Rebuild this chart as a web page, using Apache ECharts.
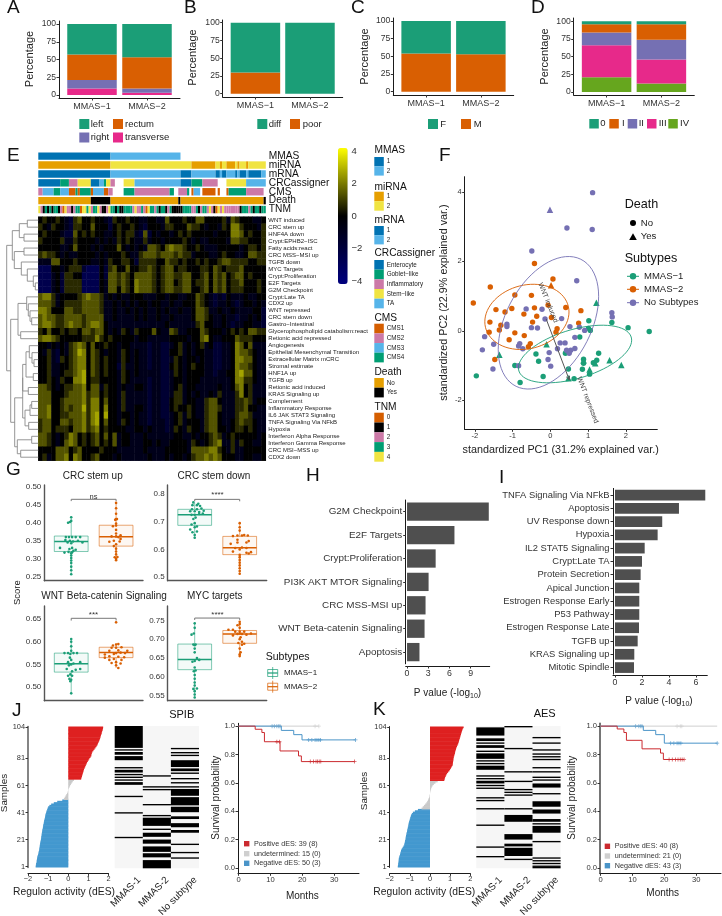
<!DOCTYPE html>
<html><head><meta charset="utf-8">
<style>html,body{margin:0;padding:0;background:#fff}#c{width:722px;height:916px}</style>
<script src="https://cdn.jsdelivr.net/npm/echarts@6/dist/echarts.min.js"></script>
</head><body><div id="c"></div>
<script>
// ---------- DATA ----------
const subtypeCats = ['MMAS\u22121','MMAS\u22122'];
const aTransverse=[9,3], aRight=[12,6], aRectum=[36,44], aLeft=[43,47];
const bPoor=[30,0], bDiff=[70,100];
const cM=[54,53], cF=[46,47];
const dIV=[21,12], dIII=[45,34], dII=[18,28], dI=[12,22], d0=[4,4];

const heatRowNames=['WNT induced','CRC stem up','HNF4A down','Crypt:EPHB2\u2212ISC','Fatty acids:react','CRC MSS\u2212MSI up','TGFB down','MYC Targets','Crypt:Proliferation','E2F Targets','G2M Checkpoint','Crypt:Late TA','CDX2 up','WNT repressed','CRC stem down','Gastro\u2212Intestinal','Glycerophospholipid catabolism:react','Retionic acid repressed','Angiogenesis','Epithelial Mesenchymal Transition','Extracellular Matrix mCRC','Stromal estimate','HNF1A up','TGFB up','Retionic acid induced','KRAS Signaling up','Complement','Inflammatory Response','IL6 JAK STAT3 Signaling','TNFA Signaling Via NFkB','Hypoxia','Interferon Alpha Response','Interferon Gamma Response','CRC MSI\u2212MSS up','CDX2 down'];
// coarse columns; digit 5 = 0, 1 = strong blue, 9 = strong yellow
const heatRows=[
"5655 6543 6755 6554 3655 6554 4554 4755 5655 7755 5564 7655 5445",
"6546 5543 6655 7555 3565 5654 3555 4665 5576 6545 5465 8865 5546",
"5655 5433 7565 6554 4565 6643 7354 5545 6565 5555 4555 8875 6556",
"6555 5644 6555 5454 5465 6544 6455 4555 5654 5445 5554 7766 5556",
"5555 5445 7555 4545 5575 4545 4776 5787 7655 6544 4555 5545 6656",
"6766 5454 4555 5454 5556 5446 7776 7776 7664 5554 4565 5445 7766",
"4447 7555 6555 4454 6556 6536 6665 5766 5655 6565 5677 6666 5566",
"2225 5456 6632 2253 6755 7556 6765 6775 6655 5665 7656 6675 5555",
"2224 5366 5522 2253 7767 6577 7765 6776 6775 5675 7675 6775 6555",
"2224 5366 6622 2254 7767 6587 7765 6775 6775 6675 7675 6675 5565",
"2224 5366 6622 2254 7757 6587 7765 6776 6775 5675 7675 6665 5565",
"7886 4555 5678 7764 5454 4555 4445 5455 4455 7654 3435 4445 4455",
"7776 4566 6677 7764 4545 4545 5455 4454 4555 7654 3445 4345 5454",
"8875 5577 6677 7764 4544 5454 5445 4544 5445 7764 4544 5444 4553",
"7877 6677 7767 7774 4544 4454 5445 4454 4445 7765 4454 4344 5453",
"7887 6678 7767 8875 4444 4444 4444 4544 4444 6755 4454 3445 5443",
"6575 5656 6577 6775 4546 5465 5575 4476 4455 5765 5545 6565 7766",
"7887 6555 5566 6865 6555 5545 5444 4455 5545 5785 4455 5766 6555",
"5545 4546 7875 7556 5545 5444 4344 3345 6454 5645 3344 5875 7444",
"5464 3546 7985 7654 5546 5454 4344 3355 6454 5544 3344 5877 6544",
"5564 3656 7885 7656 5546 5454 4344 3346 5455 4544 3344 5887 7544",
"5564 4556 7885 7656 5536 4454 4344 3356 5456 5544 3344 5877 6544",
"5564 4566 7895 7656 5546 5454 4444 3346 5455 5544 3445 5897 7544",
"5565 4655 8895 6655 5546 5444 4344 3345 5455 5444 4444 5886 6544",
"7765 4566 7785 7746 5545 4455 4344 3345 6455 4444 4544 5785 6444",
"7775 5567 7786 7756 5546 4444 4344 3346 6454 5445 4644 4685 6444",
"7775 5677 7786 8857 5546 4444 4344 3356 6455 4467 7544 4667 6455",
"7785 5676 7796 8858 5546 4455 4344 3356 5565 4467 7644 4667 5544",
"7785 5667 7786 8959 5545 5454 4344 3345 6465 4467 7544 4677 6444",
"6775 5776 7786 8957 5546 5454 4344 4345 6455 5467 7544 5676 6544",
"6775 6665 7786 7856 5555 4455 4544 4346 5465 5467 7554 5665 6544",
"7765 4568 7565 6757 5745 5444 5444 4445 5445 4556 7645 6555 5545",
"7765 4578 7565 6756 5745 5444 5545 4455 5546 5456 7844 6465 5445",
"5555 7775 6755 5565 5544 4444 5444 4555 5547 7778 8654 6445 5555",
"5645 7785 8755 6755 5454 4444 4544 4545 5456 7787 8755 5445 5445"];
const trackNames=['MMAS','miRNA','mRNA','CRCassigner','CMS','Death','TNM'];
const trackPalette={o:'#E69F00',y:'#F0E442',b:'#0072B2',l:'#56B4E9',g:'#009E73',p:'#CC79A7',r:'#D55E00',k:'#000000'};
const trackMMAS=[['b',0,33],['l',33,65]];
const trackMiRNA=[['o',0,33],['y',33,70],['o',70,81],['y',81,83],['o',83,84],['y',84,86],['o',86,90],['y',90,91],['o',91,92],['y',92,95],['o',95,96],['y',96,104]];
const trackMRNA=[['b',0,33],['l',33,65],['b',65,70],['l',70,81],['b',81,83],['l',83,84],['b',84,86],['l',86,90],['b',90,91],['l',91,92],['b',92,95],['l',95,96],['b',96,102],['l',102,104]];
const trackCRC=[['b',0,10],['g',10,14],['p',14,18],['y',18,24],['b',24,28],['l',28,30],['g',30,31],['y',31,33],['p',33,35],['y',39,44],['l',44,65],['b',65,70],['g',70,75],['p',75,82],['y',86,95],['l',95,104]];
const trackCMS=[['p',0,2],['l',2,7],['g',7,10],['l',10,14],['r',14,17],['g',17,18],['r',18,19],['g',19,24],['r',24,25],['l',25,30],['r',30,32],['p',32,34],['g',39,44],['p',44,60],['g',60,62],['p',64,68],['g',68,69],['r',70,71],['l',71,74],['r',75,81],['r',82,83],['r',86,87],['g',87,95],['p',95,103]];
const trackDeath=[['o',0,24],['k',24,33],['o',33,64],['k',64,65],['o',65,103],['k',103,104]];
const tnmCodes="4213131331204221233044342334211243313113333242232043323133123111113333223123324210424222222213332313"+"3133";
const tnmPalette=['r','k','p','g','y'];
// dendrogram: [childA, childB, height]; numbers are heatmap rows
const dendroTree=
 [[[[0,1,27.3],[2,3,24],19.3],[[4,5,24],[6,[7,[8,[9,10,35.3],33.3],27.3],21.3],14.3],12.3],
  [[[11,[12,[13,[14,15,31.7],30],28.3],26.7],[16,17,20.7],18],
   [[[[[18,[19,[20,21,34],32],29.3],[22,23,33.3],26],[24,25,28.3],22.7],[[[26,27,31.7],28,30],[29,30,28.7],25],22.7],
    [[31,32,31.7],[33,34,20.7],17.3],14.7],10.7],6.7];
const heatTicks=[4,2,0,-2,-4];

const fGreenCircle=[[2.62,-.02],[2.06,.09],[1.63,.24],[1.02,.29],[1.01,.07],[1.06,.01],[.78,-.18],[-.38,-.67],[-.31,-.88],[-.94,-1],[-1.96,-1.3],[-.8,-1.49],[-.19,-1.32],[.48,-1.1],[.63,-1.38],[.85,-1.11],[.88,-.82],[.88,-.94],[1.14,-.92],[1.23,-.85],[1.28,-.65],[1.04,-1.25],[.4,-.65],[.43,-.6]];
const fGreenTri=[[1.22,.81],[-1.35,-.69],[-.1,-.39],[.88,-.85],[1.04,-1.12],[1.19,-.94],[1.57,-.85],[1.88,-.99],[.48,-1.37]];
const fOrangeCircle=[[-.42,1.94],[.07,1.49],[-1.59,1.26],[-.94,1.03],[-.5,1.02],[-2.04,.8],[-1.02,.64],[-1.44,.61],[-.42,.66],[.41,.67],[.81,.58],[-1.2,.54],[-.7,.48],[-.36,.42],[-.47,.25],[.03,.38],[-1.6,.25],[-1.31,.16],[-1.35,.02],[-1.62,-.04],[-.94,-.06],[-.69,-.14],[-1.09,-.26],[.18,.06],[.15,-.04],[.75,.22],[-.53,-.37],[-.58,-.46],[-1.47,-.83],[-.06,.74]];
const fOrangeTri=[[.02,1.31]];
const fPurpleCircle=[[1.12,3.98],[.44,2.96],[1.11,2.92],[-.49,2.3],[.7,1.44],[1.63,.52],[1.64,.4],[-.64,.63],[.3,.35],[-.22,.62],[-1.15,.19],[-1.15,.12],[-.5,.09],[-.34,.08],[.52,.12],[.77,.1],[.91,.01],[-1.74,-.17],[-1.5,-.39],[-1.8,-.55],[-.81,-.37],[-.84,-.44],[-.73,-.52],[.26,-.35],[.39,-.35],[.19,-.52],[-.03,-.63],[-.06,-.83],[.01,-1.02],[-.84,-1.01],[-1.52,-1.1],[.65,-.19],[.65,-.51],[.54,-.56],[.43,-.56],[.5,-.65],[-.14,.34]];
const fPurpleTri=[[-.01,3.49]];
// ellipse: centre x, centre y, half width, half height, correlation
const fEllipseGreen=[.655,-.67,1.5,.83,.48], fEllipseOrange=[-.62,.4,1.115,.94,.15], fEllipsePurple=[-.05,.23,1.33,1.91,.4];
const wntArrow=[-.11,.34,.5,-1.41];

// x, min, q1, median, q3, max
const gStemUpBox=[[1,.257,.32,.348,.363,.417],[2,.294,.335,.361,.393,.456]];
const gStemDownBox=[[1,.64,.687,.725,.745,.769],[2,.51,.581,.606,.647,.698]];
const gWntBox=[[1,.486,.533,.5515,.575,.606],[2,.542,.565,.5765,.588,.597]];
const gMycBox=[[1,.545,.619,.646,.687,.742],[2,.655,.689,.714,.723,.746]];
const gStemUp1=[[1,.257],[1,.268],[1,.278],[1,.288],[1,.295],[1,.302],[1,.309],[1,.315],[1.02,.318],[.85,.317],[.94,.319],[1.05,.322],[1.1,.325],[.75,.33],[.96,.327],[1.02,.33],[.92,.345],[1,.343],[1.04,.348],[.97,.35],[1.15,.35],[1.25,.345],[.87,.352],[.88,.36],[1.02,.36],[.95,.36],[1.1,.36],[1.2,.36],[.93,.4],[.97,.402],[1,.405],[1,.415]];
const gStemUp2=[[2,.296],[2,.3],[1.97,.304],[2.03,.305],[2,.312],[2,.32],[2,.328],[1.95,.335],[2,.34],[1.85,.347],[1.95,.35],[2.08,.348],[2.1,.355],[2.05,.36],[2,.362],[1.9,.362],[2.1,.365],[2,.37],[2,.38],[1.93,.39],[2,.392],[2,.398],[1.98,.408],[2.02,.41],[2,.41],[2,.425],[2,.44],[2,.455]];
const gStemDown1=[[1,.642],[1,.652],[.95,.662],[1.05,.665],[.9,.672],[1,.68],[1.05,.683],[.93,.69],[1,.695],[.97,.71],[1.02,.715],[1,.725],[.93,.725],[1.1,.728],[1.18,.73],[1.2,.74],[1.1,.735],[1,.738],[.9,.738],[.94,.745],[1.05,.745],[1.15,.748],[1.12,.757],[1.05,.76],[.95,.76],[.97,.77],[1.08,.765]];
const gStemDown2=[[2,.512],[2,.522],[2,.532],[2,.542],[2,.552],[2,.562],[2,.572],[2,.58],[2.2,.585],[2.25,.59],[1.85,.592],[2.15,.588],[2,.6],[1.9,.605],[2.05,.607],[2.15,.605],[1.8,.62],[1.95,.625],[2.15,.625],[1.95,.635],[2.2,.63],[1.85,.648],[1.95,.65],[2.05,.65],[2.1,.652],[2.18,.65],[2,.668],[2,.68],[2,.695]];
const gWnt1=[[1,.486],[.98,.513],[.96,.518],[1,.516],[.93,.525],[.98,.528],[1.02,.525],[1.02,.535],[.9,.54],[1.1,.538],[.95,.548],[1,.55],[1.05,.552],[.93,.555],[1.2,.54],[1.2,.555],[1,.56],[.97,.565],[.98,.573],[.85,.575],[.93,.575],[1.05,.575],[1.13,.575],[1,.58],[1,.59],[1,.6],[1,.606]];
const gWnt2=[[2.05,.542],[2,.548],[2.1,.552],[1.9,.553],[2,.555],[1.85,.56],[1.95,.562],[2.12,.56],[1.75,.565],[1.85,.568],[2.05,.567],[2.18,.566],[1.75,.572],[1.95,.573],[2,.575],[2.1,.576],[2.2,.575],[1.85,.58],[2.05,.581],[2.25,.58],[1.9,.587],[2,.587],[2.12,.588],[1.93,.592],[2,.594],[2.05,.595],[2,.643]];
const gMyc1=[[1,.545],[1,.553],[1,.562],[.97,.568],[1.05,.569],[1,.577],[1,.585],[1,.595],[1,.605],[.98,.615],[1.02,.617],[1,.625],[.95,.64],[1,.642],[1.1,.645],[1.05,.65],[1,.665],[1,.675],[1,.684],[.97,.686],[1.02,.686],[.93,.712],[.98,.715],[1,.73],[1,.742]];
const gMyc2=[[2,.655],[2,.66],[2.02,.665],[2,.675],[2.05,.685],[2.1,.688],[1.97,.69],[2.05,.693],[2,.7],[2.02,.705],[1.85,.71],[1.95,.714],[2,.715],[2.05,.714],[2.15,.712],[2.25,.715],[1.9,.72],[2,.72],[2.1,.72],[1.75,.725],[1.85,.725],[2,.73],[1.95,.737],[2,.74],[2,.746]];
// x1, x2, y, tip low end
const gBrStemUp=[1,2,.465,.46], gBrStemDown=[1,2,.781,.774], gBrWnt=[1,2,.652,.647], gBrMyc=[1,2,.756,.751];

const hNames=['G2M Checkpoint','E2F Targets','Crypt:Proliferation','PI3K AKT MTOR Signaling','CRC MSS-MSI up','WNT Beta-catenin Signaling','Apoptosis'];
const hValues=[11.57,6.71,4.05,3.05,2.62,2.48,1.76];
const iNames=['TNFA Signaling Via NFkB','Apoptosis','UV Response down','Hypoxia','IL2 STAT5 Signaling','Crypt:Late TA','Protein Secretion','Apical Junction','Estrogen Response Early','P53 Pathway','Estrogen Response Late','TGFB up','KRAS Signaling up','Mitotic Spindle'];
const iValues=[6.69,4.74,3.5,3.16,2.2,2,1.9,1.8,1.8,1.8,1.78,1.68,1.43,1.41];

const jNeg=[-1.62,-1.61,-1.60,-1.58,-1.57,-1.56,-1.55,-1.54,-1.52,-1.5,-1.48,-1.47,-1.45,-1.44,-1.43,-1.42,-1.41,-1.4,-1.39,-1.37,-1.36,-1.35,-1.34,-1.33,-1.32,-1.31,-1.3,-1.29,-1.27,-1.26,-1.25,-1.24,-1.22,-1.21,-1.2,-1.18,-1.16,-1.15,-1.14,-1.12,-1.1,-1.08,-1.05,-1.03,-1.0,-.94,-.85,-.72,-.55,-.3];
const jUnd=[-.22,-.18,-.14,-.1,-.06,-.03,-.01,.01,.03,.06,.09,.13,.17,.22,.28];
const jPos=[.64,.66,.68,.7,.72,.74,.76,.78,.81,.84,.87,.9,.93,.97,1.01,1.05,1.1,1.14,1.15,1.17,1.2,1.25,1.3,1.35,1.4,1.44,1.47,1.5,1.53,1.56,1.58,1.6,1.62,1.64,1.66,1.68,1.7,1.72,1.73];
const kNeg=[-1.6,-1.59,-1.58,-1.57,-1.56,-1.55,-1.55,-1.53,-1.51,-1.49,-1.47,-1.45,-1.44,-1.4,-1.36,-1.32,-1.28,-1.27,-1.25,-1.24,-1.22,-1.21,-1.2,-1.19,-1.17,-1.16,-1.14,-1.13,-1.11,-1.1,-1.08,-1.07,-1.06,-1.04,-1.02,-1,-.98,-.96,-.94,-.9,-.85,-.75,-.6];
const kUnd=[-.42,-.36,-.3,-.24,-.18,-.14,-.1,-.07,-.04,-.02,-.01,0,.01,.02,.04,.06,.09,.13,.19,.27,.38];
const kPos=[.71,.73,.75,.78,.81,.85,.9,.96,1,1.04,1.08,1.12,1.13,1.14,1.15,1.16,1.17,1.18,1.2,1.22,1.24,1.25,1.27,1.29,1.31,1.34,1.37,1.4,1.42,1.44,1.46,1.48,1.5,1.52,1.54,1.56,1.58,1.6,1.63,1.67];
const sampleTicks=['1','21','41','61','81','104'];
const binCats=['MMAS-1','MMAS-2','No subtype'];
// black stretches per column, counted in samples from the top
const jBin=[
 [[0,16],[17,18],[19,21],[22,25],[30,31],[32,34],[35,36],[37,38],[39,40],[41,43],[51,52],[63,64],[81,82]],
 [[36,37],[44,45],[46,47],[57,58],[65,66],[67,73],[75,76],[78,81],[83,86],[88,92],[93,96],[98,104]],
 [[16,17],[19,20],[21,22],[25,30],[31,33],[34,35],[38,39],[41,42],[44,45],[46,51],[52,58],[59,63],[66,68],[71,74],[76,78],[86,87],[92,93],[96,97]]];
const kBin=[
 [[1,7],[9,11],[12,13],[14,16],[18,19],[20,24],[25,26],[27,28],[29,32],[36,37],[38,39],[40,42],[43,44],[45,46],[52,53],[54,55],[60,61],[72,73],[88,89],[95,96]],
 [[0,1],[16,17],[33,34],[40,41],[46,47],[48,49],[50,51],[60,61],[65,70],[79,83],[86,88],[89,95],[97,98]],
 [[8,9],[12,13],[17,18],[20,21],[22,23],[24,25],[30,31],[33,34],[37,38],[39,40],[42,45],[49,50],[55,59],[61,64],[68,70],[71,72],[73,78],[84,85],[96,97],[98,99],[100,101],[102,103],[103,104]]];
const jSurvPos=[[0,1],[5.2,.978],[7.3,.955],[8.1,.89],[13,.825],[18.8,.79],[19.7,.75],[36.4,.75]];
const jSurvNeg=[[0,1],[13.4,.97],[17.3,.94],[19.9,.903],[36.7,.903]];
const jSurvUnd=[[0,1],[25.2,1]];
const kSurvPos=[[0,1],[5.2,.98],[7.3,.955],[8.1,.9],[13,.84],[18.8,.81],[19.7,.765],[26.2,.765]];
const kSurvNeg=[[0,1],[13.4,.97],[17.3,.94],[20,.88],[36.6,.88]];
const kSurvUnd=[[0,1],[36.6,1]];
const jCensPos=[[12,.89],[12.8,.89],[22.5,.75],[23.5,.75],[24.3,.75],[24.8,.75],[25.3,.75],[25.8,.75],[36.4,.75]];
const jCensNeg=[[10.5,1],[11.2,1],[12,1],[12.6,1],[13,1],[22,.903],[23,.903],[24,.903],[24.6,.903],[25.2,.903],[25.7,.903],[36.7,.903]];
const jCensUnd=[[24,1],[25.2,1]];
const kCensPos=[[21.5,.765],[22.5,.765],[23.5,.765],[24.3,.765],[25,.765],[25.6,.765],[26.2,.765]];
const kCensNeg=[[11,1],[12,1],[12.6,1],[13,1],[22,.88],[23,.88],[24,.88],[24.6,.88],[25.2,.88],[36.6,.88]];
const kCensUnd=[[24,1],[25,1],[25.5,1]];

// ---------- HELPERS ----------
const FONT='"Liberation Sans",Arial,sans-serif';
const C={g:'#1B9E77',o:'#D95F02',v:'#7570B3',m:'#E7298A',l:'#66A61E'};
const grids=[],xAxes=[],yAxes=[],series=[],gfx=[];
function addGrid(x0,y0,x1,y1,xa,ya,extra){
  const i=grids.length;
  grids.push(Object.assign({left:x0,top:y0,width:x1-x0,height:y1-y0,containLabel:false},extra||{}));
  xa.gridIndex=i;ya.gridIndex=i;xAxes.push(xa);yAxes.push(ya);return i;
}
function spine(col,w){return {show:true,onZero:false,lineStyle:{color:col||'#1a1a1a',width:w||1}};}
function valAxis(min,max,ticks,fmt,size,sp){
  return {type:'value',min,max,splitLine:{show:false},axisLine:spine(sp&&sp.c,sp&&sp.w),
    axisTick:{show:true,length:2.5,customValues:ticks,lineStyle:{color:'#333',width:1}},
    axisLabel:{show:true,customValues:ticks,formatter:fmt||(v=>String(v)),fontSize:size||8.6,fontFamily:FONT,color:'#333',margin:3,hideOverlap:false}};
}
function hiddenVal(min,max,inverse){return {type:'value',show:false,min,max,inverse:!!inverse,splitLine:{show:false}};}
function txt(x,y,t,o){o=o||{};
  const e={type:'text',x,y,silent:true,z:50,rotation:o.rot||0,style:{text:t,fontSize:o.size||9,fontFamily:FONT,fill:o.color||'#222',align:o.align||'left',verticalAlign:'middle',fontWeight:'normal'}};
  if(o.rich)e.style.rich=o.rich; gfx.push(e);}
function box(x,y,w,h,c){gfx.push({type:'rect',silent:true,z:50,shape:{x,y,width:w,height:h},style:{fill:c}});}
function letter(x,y,t){txt(x,y,t,{size:19,color:'#111'});}
const fmtMinus=v=>String(v).replace('-','\u2212');

// stacked percentage panels: one grid carries the spines and ticks, a second
// grid with the same y range carries the bars on a category axis
function pctPanel(x0,x1,yTop,y100,y0,yBot,seriesDefs){
  const per=(y0-y100)/100;
  const min=-(yBot-y0)/per,max=100+(y100-yTop)/per;
  const xa=valAxis(.4,2.6,[1,2],v=>subtypeCats[v-1],9);
  xa.axisLabel.margin=4;
  addGrid(x0,yTop,x1,yBot,xa,valAxis(min,max,[0,25,50,75,100],null,8.6));
  const unit=(x1-x0)/2.2;
  const g=addGrid(x0+.1*unit,yTop,x0+2.1*unit,yBot,{type:'category',show:false,data:subtypeCats},hiddenVal(min,max));
  seriesDefs.forEach(d=>series.push({type:'bar',stack:'s'+g,name:d[0],xAxisIndex:g,yAxisIndex:g,barWidth:49.5,
    data:d[1],itemStyle:{color:d[2]},label:{show:false}}));
}
pctPanel(59,180,21,24,95,98,[['transverse',aTransverse,C.m],['right',aRight,C.v],['rectum',aRectum,C.o],['left',aLeft,C.g]]);
pctPanel(222.7,342.7,20,22.7,93.7,97,[['poor',bPoor,C.o],['diff',bDiff,C.g]]);
pctPanel(393.3,513.7,18,21,91.7,95,[['M',cM,C.o],['F',cF,C.g]]);
pctPanel(573.7,694.3,18,21.3,92,95,[['IV',dIV,C.l],['III',dIII,C.m],['II',dII,C.v],['I',dI,C.o],['0',d0,C.g]]);
[[30,59],[193,57.5],[365,56.5],[544.7,56.5]].forEach(p=>txt(p[0],p[1],'Percentage',{size:11,rot:Math.PI/2,align:'center'}));
letter(7,8,'A');letter(184,8,'B');letter(351,8,'C');letter(531,8,'D');letter(7,156,'E');letter(439,156,'F');letter(6,470,'G');letter(306,476,'H');letter(499,478,'I');letter(12,711,'J');letter(373,710,'K');
function swatchText(x,y,s,c,t,tx,size){box(x,y,s,s,c);txt(tx,y+s/2,t,{size:size||9.5});}
swatchText(79.3,119,10,C.g,'left',90.7);swatchText(113,119,10,C.o,'rectum',125);
swatchText(79.3,132.5,10,C.v,'right',90.7);swatchText(113,132.5,10,C.m,'transverse',125);
swatchText(257.3,119,10,C.g,'diff',268.7);swatchText(290,119,10,C.o,'poor',302.7);
swatchText(428,119,10,C.g,'F',440.3);swatchText(461,119,10,C.o,'M',473.7);
swatchText(589.3,119,9.5,C.g,'0',600.3);swatchText(609.3,119,9.5,C.o,'I',622);swatchText(627.7,119,9.5,C.v,'II',638.7);swatchText(647,119,9.5,C.m,'III',658.7);swatchText(668.3,119,9.5,C.l,'IV',680);

// annotation tracks
const trackRows=[];
[trackMMAS,trackMiRNA,trackMRNA,trackCRC,trackCMS,trackDeath].forEach((runs,t)=>runs.forEach(r=>trackRows.push([r[1],r[2],t,trackPalette[r[0]]])));
tnmCodes.split('').forEach((c,i)=>trackRows.push([i,i+1,6,trackPalette[tnmPalette[+c]]]));
const gTrack=addGrid(38.3,151.7,265.8,214,{type:'value',show:false,min:0,max:104,splitLine:{show:false}},
  {type:'category',data:trackNames,inverse:true,position:'right',axisLine:{show:false},axisTick:{show:false},axisLabel:{fontSize:10.2,fontFamily:FONT,color:'#111',margin:3,interval:0}});
series.push({type:'custom',xAxisIndex:gTrack,yAxisIndex:gTrack,encode:{x:[0,1],y:2},data:trackRows.map(r=>[r[0],r[1],r[2]]),
  renderItem(p,api){const a=api.coord([api.value(0),api.value(2)]),b=api.coord([api.value(1),api.value(2)]);
    return {type:'rect',shape:{x:a[0],y:a[1]-3.7,width:b[0]-a[0],height:7.4},style:{fill:trackRows[p.dataIndex][3]}};}});

// heatmap
const heatData=[];
heatRows.forEach((s,r)=>s.replace(/ /g,'').split('').forEach((d,c)=>{const k=+d-5;heatData.push([c,r,k*(k>0?.68:.85)]);}));
const gHeat=addGrid(38.3,216.7,265.8,460.7,{type:'category',show:false,data:Array.from({length:52},(_,i)=>i)},
  {type:'category',data:heatRowNames,inverse:true,position:'right',axisLine:{show:false},axisTick:{show:false},axisLabel:{fontSize:6,fontFamily:FONT,color:'#222',margin:2.5,interval:0}});
const heatIdx=series.length;
series.push({type:'heatmap',xAxisIndex:gHeat,yAxisIndex:gHeat,data:heatData,progressive:0});

// dendrogram
const dendroSegs=[];
(function walk(n){ if(typeof n==='number')return {x:38.3,y:n};
  const a=walk(n[0]),b=walk(n[1]),h=n[2];
  dendroSegs.push([a.x,a.y,h,a.y],[b.x,b.y,h,b.y],[h,a.y,h,b.y]);
  return {x:h,y:(a.y+b.y)/2};})(dendroTree);
const gDen=addGrid(0,216.7,38.3,460.7,hiddenVal(0,38.3),hiddenVal(-.5,34.5,true));
series.push({type:'custom',xAxisIndex:gDen,yAxisIndex:gDen,encode:{x:[0,2],y:[1,3]},data:dendroSegs,
  renderItem(p,api){const a=api.coord([api.value(0),api.value(1)]),b=api.coord([api.value(2),api.value(3)]);
    return {type:'line',shape:{x1:a[0],y1:a[1],x2:b[0],y2:b[1]},style:{stroke:'#8a8a8a',lineWidth:.9}};}});
heatTicks.forEach(v=>txt(351.5,216.3-v*16.25,fmtMinus(v),{size:9.5,color:'#333'}));

// E legends
function annLegend(tx,ty,items,y0,pitch){
  txt(374.5,ty,tx,{size:10.2,color:'#111'});
  items.forEach((it,i)=>{box(374.3,y0+i*pitch,9.5,pitch,it[1]);txt(386.7,y0+i*pitch+pitch/2,it[0],{size:6.3});});
}
const P=trackPalette;
annLegend('MMAS',150,[['1',P.b],['2',P.l]],157,9.3);
annLegend('miRNA',186.7,[['1',P.o],['2',P.y]],191.7,9.5);
annLegend('mRNA',220,[['1',P.b],['2',P.l]],226,9.2);
annLegend('CRCassigner',253.5,[['Enterocyte',P.b],['Goblet\u2212like',P.g],['Inflammatory',P.p],['Stem\u2212like',P.y],['TA',P.l]],260,9.67);
annLegend('CMS',318.5,[['CMS1',P.r],['CMS2',P.p],['CMS3',P.l],['CMS4',P.g]],323.7,9.67);
annLegend('Death',371.7,[['No',P.o],['Yes',P.k]],378,9.7);
annLegend('TNM',406.7,[['0',P.r],['1',P.k],['2',P.p],['3',P.g],['4',P.y]],412.7,9.8);

// F biplot
const gF=addGrid(464.7,176.7,657.3,429.3,valAxis(-2.268,2.834,[-2,-1,0,1,2],null,7.5),valAxis(-2.84,4.44,[-2,0,2,4],null,7.5));
[[fGreenCircle,C.g,'circle',5.4],[fOrangeCircle,C.o,'circle',5.4],[fPurpleCircle,C.v,'circle',5.4],[fGreenTri,C.g,'triangle',6.5],[fOrangeTri,C.o,'triangle',6.5],[fPurpleTri,C.v,'triangle',6.5]]
 .forEach(d=>series.push({type:'scatter',xAxisIndex:gF,yAxisIndex:gF,data:d[0],symbol:d[2],symbolSize:d[3],itemStyle:{color:d[1],opacity:1}}));
[[fEllipseGreen,C.g],[fEllipseOrange,C.o],[fEllipsePurple,C.v]].forEach(d=>{
  series.push({type:'custom',xAxisIndex:gF,yAxisIndex:gF,encode:{x:0,y:1},data:[d[0]],z:3,
    renderItem(p,api){const [cx,cy,ax,ay,r]=[0,1,2,3,4].map(i=>api.value(i));const del=Math.acos(r),pts=[];
      for(let k=0;k<=72;k++){const t=k/72*2*Math.PI;pts.push(api.coord([cx+ax*Math.cos(t),cy+ay*Math.cos(t-del)]));}
      return {type:'polyline',shape:{points:pts},style:{stroke:d[1],fill:'none',lineWidth:.9}};}});
});
series.push({type:'custom',xAxisIndex:gF,yAxisIndex:gF,encode:{x:[0,2],y:[1,3]},data:[wntArrow],z:4,
  renderItem(p,api){const a=api.coord([api.value(0),api.value(1)]),b=api.coord([api.value(2),api.value(3)]);
    const ang=Math.atan2(b[1]-a[1],b[0]-a[0]),L=4;
    const h1=[b[0]-L*Math.cos(ang-.45),b[1]-L*Math.sin(ang-.45)],h2=[b[0]-L*Math.cos(ang+.45),b[1]-L*Math.sin(ang+.45)];
    return {type:'group',children:[{type:'line',shape:{x1:a[0],y1:a[1],x2:b[0],y2:b[1]},style:{stroke:'#555',lineWidth:1}},
      {type:'polyline',shape:{points:[h1,b,h2]},style:{stroke:'#555',fill:'none',lineWidth:1}}]};}});
txt(548,302.7,'WNT induced',{size:7,rot:-1.18,align:'center',color:'#444'});
txt(587.7,400,'WNT repressed',{size:7,rot:-1.2,align:'center',color:'#444'});
txt(560.7,450,'standardized PC1 (31.2% explained var.)',{size:10.8,align:'center'});
txt(444,302.5,'standardized PC2 (22.9% explained var.)',{size:10.8,rot:Math.PI/2,align:'center'});
txt(624.7,205,'Death',{size:12.6,color:'#111'});
gfx.push({type:'circle',silent:true,z:50,shape:{cx:633,cy:223,r:3},style:{fill:'#000'}});
txt(640.7,223,'No',{size:9.6});
gfx.push({type:'polygon',silent:true,z:50,shape:{points:[[633,233.2],[636.8,240],[629.2,240]]},style:{fill:'#000'}});
txt(640.7,236.7,'Yes',{size:9.6});
txt(624.7,259,'Subtypes',{size:12.6,color:'#111'});
[[276.3,C.g,'MMAS\u22121'],[289.3,C.o,'MMAS\u22122'],[302.7,C.v,'No Subtypes']].forEach(d=>{
  gfx.push({type:'line',silent:true,z:50,shape:{x1:627,y1:d[0],x2:639,y2:d[0]},style:{stroke:d[1],lineWidth:1}});
  gfx.push({type:'circle',silent:true,z:50,shape:{cx:633,cy:d[0],r:3.2},style:{fill:d[1]}});
  txt(644,d[0],d[2],{size:9.5});
});

// G boxes
const GS={c:'#555',w:1.4};
function boxPanel(x0,x1,y0,y1,ymin,ymax,ticks,fmt,boxes,p1,p2,br,sig,sigX,sigY){
  const g=addGrid(x0,y0,x1,y1,{type:'value',min:.4,max:2.6,axisLine:spine(GS.c,GS.w),axisTick:{show:false},axisLabel:{show:false},splitLine:{show:false}},valAxis(ymin,ymax,ticks,fmt,8,GS));
  yAxes[g].axisTick.show=false;
  [[p1,C.g],[p2,C.o]].forEach((d,i)=>{
    series.push({type:'custom',xAxisIndex:g,yAxisIndex:g,encode:{x:0,y:[1,2,3,4,5]},data:[boxes[i]],z:2,
      renderItem(p,api){const v=[0,1,2,3,4,5].map(k=>api.value(k));const w=16.9;
        const f=y=>api.coord([v[0],y]);const cx=f(v[1])[0];
        const col=d[1];
        const ln=(x1,y1,x2,y2,o,lw)=>({type:'line',shape:{x1,y1,x2,y2},style:{stroke:col,lineWidth:lw||1,opacity:o}});
        return {type:'group',children:[
          {type:'rect',shape:{x:cx-w,y:f(v[4])[1],width:2*w,height:f(v[2])[1]-f(v[4])[1]},style:{fill:col,fillOpacity:.05,stroke:col,lineWidth:1,strokeOpacity:.55}},
          ln(cx,f(v[1])[1],cx,f(v[2])[1],.55),ln(cx,f(v[4])[1],cx,f(v[5])[1],.55),
          ln(cx-w,f(v[3])[1],cx+w,f(v[3])[1],1,1.5)]};}});
    series.push({type:'scatter',xAxisIndex:g,yAxisIndex:g,data:d[0],symbolSize:2.6,itemStyle:{color:d[1],opacity:1},z:3});
  });
  series.push({type:'custom',xAxisIndex:g,yAxisIndex:g,encode:{x:[0,1],y:[2,3]},data:[br],z:2,
    renderItem(p,api){const a=api.coord([api.value(0),api.value(2)]),b=api.coord([api.value(1),api.value(2)]);const t=api.coord([api.value(0),api.value(3)])[1];
      return {type:'polyline',shape:{points:[[a[0],t],a,b,[b[0],t]]},style:{stroke:'#777',fill:'none',lineWidth:1}};}});
  txt(sigX,sigY,sig,{size:sig==='ns'?7.5:8,align:'center',color:'#333'});
}
const f2=v=>v.toFixed(2),f1=v=>v.toFixed(1);
boxPanel(44.3,143,485,580.7,.239,.5047,[.25,.3,.35,.4,.45,.5],f2,gStemUpBox,gStemUp1,gStemUp2,gBrStemUp,'ns',93.5,496.5);
boxPanel(167.7,266.7,485,580.7,.4867,.833,[.5,.6,.7,.8],f1,gStemDownBox,gStemDown1,gStemDown2,gBrStemDown,'****',217.5,495);
boxPanel(44.3,143,606,700.7,.4698,.6792,[.5,.55,.6,.65],f2,gWntBox,gWnt1,gWnt2,gBrWnt,'***',93.5,614.5);
boxPanel(167.7,266.7,606,700.7,.5367,.788,[.55,.6,.65,.7,.75],f2,gMycBox,gMyc1,gMyc2,gBrMyc,'****',217.5,614.5);
txt(92.7,476.7,'CRC stem up',{size:10,align:'center'});
txt(214,476.7,'CRC stem down',{size:10,align:'center'});
txt(104,596,'WNT Beta-catenin Signaling',{size:10,align:'center'});
txt(214.7,596,'MYC targets',{size:10,align:'center'});
txt(17,592.7,'Score',{size:9.5,rot:Math.PI/2,align:'center'});
txt(265.7,656.7,'Subtypes',{size:10.5,color:'#111'});
[[673,C.g,'MMAS\u22121'],[686.7,C.o,'MMAS\u22122']].forEach(d=>{
  gfx.push({type:'rect',silent:true,z:50,shape:{x:267.7,y:d[0]-3.5,width:10,height:7},style:{fill:'#fff',stroke:d[1],lineWidth:1,strokeOpacity:.7}});
  gfx.push({type:'line',silent:true,z:50,shape:{x1:272.7,y1:d[0]-6,x2:272.7,y2:d[0]+6},style:{stroke:d[1],lineWidth:1,opacity:.7}});
  gfx.push({type:'line',silent:true,z:50,shape:{x1:267.7,y1:d[0],x2:277.7,y2:d[0]},style:{stroke:d[1],lineWidth:1.2}});
  txt(284,d[0],d[2],{size:8});
});

// H, I bars
function hbarPanel(x0,x1,y0,y1,off,min,max,ticks,names,vals,bw,lsize){
  const xa=valAxis(min,max,ticks,null,8.8);xa.offset=off;
  const ya={type:'category',data:names,inverse:true,axisLine:spine(),axisTick:{show:true,length:2.5,alignWithLabel:true,lineStyle:{color:'#333'}},
    axisLabel:{fontSize:lsize,fontFamily:FONT,color:'#333',margin:3.5,interval:0}};
  const g=addGrid(x0,y0,x1,y1,xa,ya);
  series.push({type:'bar',xAxisIndex:g,yAxisIndex:g,barWidth:bw,data:vals,itemStyle:{color:'#4F4F4F'}});
}
hbarPanel(405.7,489.7,500,663.8,2.2,-.19,11.7,[0,3,6,9],hNames,hValues,18.3,9.9);
hbarPanel(613,707.3,488.4,674.2,.8,-.148,6.84,[0,2,4,6],iNames,iValues,10.7,9.4);
const pvalRich={s:{fontSize:7,fontFamily:FONT,fill:'#222',verticalAlign:'bottom',padding:[6,0,0,0]}};
txt(447.5,693.5,'P value (-log{s|10})',{size:10,align:'center',rich:pvalRich});
txt(659,701,'P value (-log{s|10})',{size:10,align:'center',rich:pvalRich});

// J, K
function regulonPanel(o){
  const vals=o.neg.concat(o.und,o.pos);
  const cats=vals.map((_,i)=>String(i+1));
  const colours=[].concat(o.neg.map(()=>'#4398CF'),o.und.map(()=>'#C9C9C9'),o.pos.map(()=>'#DE2020'));
  const isTick=(i,v)=>sampleTicks.indexOf(v)>=0;
  const xa=valAxis(-2,2,[-2,-1,0,1,2],fmtMinus,7.4);xa.offset=6;xa.axisLabel.margin=2.5;
  const ya={type:'category',data:cats,axisLine:spine(o.sp&&o.sp.c,o.sp&&o.sp.w),axisTick:{show:true,length:2.5,alignWithLabel:true,interval:isTick,lineStyle:{color:'#333'}},
    axisLabel:{interval:isTick,fontSize:7.4,fontFamily:FONT,color:'#333',margin:3}};
  const g=addGrid(o.x0,726.6,o.x0+80.6,867.4,xa,ya);
  series.push({type:'bar',xAxisIndex:g,yAxisIndex:g,barWidth:1.9,data:vals.map((v,i)=>({value:v,itemStyle:{color:colours[i]}}))});
  // binary matrix
  const binRows=[];o.bin.forEach((col,c)=>col.forEach(r=>binRows.push([c,r[0],r[1]])));
  const gb=addGrid(o.bx0,726,o.bx0+84.3,868.3,
    {type:'category',data:binCats,axisLine:{show:false},axisTick:{show:false},axisLabel:{show:false}},
    hiddenVal(0,104,true),{show:true,backgroundColor:'#F6F6F6',borderWidth:0});
  series.push({type:'custom',xAxisIndex:gb,yAxisIndex:gb,encode:{x:0,y:[1,2]},data:binRows,
    renderItem(p,api){const a=api.coord([api.value(0),api.value(1)]),b=api.coord([api.value(0),api.value(2)]),w=api.size([1,0])[0];
      return {type:'rect',shape:{x:a[0]-w/2,y:a[1],width:w,height:b[1]-a[1]},style:{fill:'#000'}};}});
  binCats.forEach((n,i)=>txt(o.bx0+14+28.1*i+10.5,878.5,n,{size:9.8,rot:Math.PI/4,align:'right'}));
  // survival
  const sx=valAxis(-.2*(o.sx1-o.sx0)/120,37.8,[0,10,20,30],null,7.6);sx.axisLabel.margin=3;
  const sy=valAxis(-.0374,1.02,[0,.2,.4,.6,.8,1],f1,7.6,o.sp2);
  const gs=addGrid(o.sx0,723.3,o.sx1,873.3,sx,sy);
  [[o.sUnd,o.cUnd,'#CFCFCF'],[o.sNeg,o.cNeg,'#4A94C8'],[o.sPos,o.cPos,'#CB2A2F']].forEach(d=>{
    series.push({type:'line',xAxisIndex:gs,yAxisIndex:gs,step:'end',data:d[0],symbol:'none',lineStyle:{color:d[2],width:1}});
    series.push({type:'scatter',xAxisIndex:gs,yAxisIndex:gs,data:d[1],symbol:'path://M4 0h2v4h4v2h-4v4h-2v-4h-4v-2h4z',symbolSize:4,itemStyle:{color:d[2]}});
  });
}
regulonPanel({x0:28,bx0:114.7,sx0:238,sx1:359,neg:jNeg,und:jUnd,pos:jPos,bin:jBin,sp:{c:'#666',w:1.6},
  sPos:jSurvPos,sNeg:jSurvNeg,sUnd:jSurvUnd,cPos:jCensPos,cNeg:jCensNeg,cUnd:jCensUnd});
regulonPanel({x0:389.7,bx0:476.3,sx0:600,sx1:721,neg:kNeg,und:kUnd,pos:kPos,bin:kBin,sp2:{c:'#666',w:1.8},
  sPos:kSurvPos,sNeg:kSurvNeg,sUnd:kSurvUnd,cPos:kCensPos,cNeg:kCensNeg,cUnd:kCensUnd});
txt(181.7,715.3,'SPIB',{size:11,align:'center',color:'#111'});
txt(544.7,714,'AES',{size:11,align:'center',color:'#111'});
txt(4,793,'Samples',{size:9.9,rot:Math.PI/2,align:'center'});
txt(364.5,791,'Samples',{size:9.9,rot:Math.PI/2,align:'center'});
txt(64,892,'Regulon activity (dES)',{size:10.3,align:'center'});
txt(424.3,892,'Regulon activity (dES)',{size:10.3,align:'center'});
txt(216,797.8,'Survival probability',{size:10,rot:Math.PI/2,align:'center'});
txt(572.7,797.8,'Survival probability',{size:10,rot:Math.PI/2,align:'center'});
txt(302.3,896.7,'Months',{size:10,align:'center'});
txt(662.7,893.7,'Months',{size:10,align:'center'});
[['Positive dES: 39 (8)','#CB2A2F',843.7],['undetermined: 15 (0)','#CFCFCF',853.7],['Negative dES: 50 (3)','#4A94C8',863.3]].forEach(d=>{box(244,d[2]-2.7,5.4,5.4,d[1]);txt(254,d[2],d[0],{size:7.2,color:'#333'});});
[['Positive dES: 40 (8)','#CB2A2F',846.3],['undetermined: 21 (0)','#CFCFCF',856],['Negative dES: 43 (3)','#4A94C8',865.7]].forEach(d=>{box(604.7,d[2]-2.7,5.4,5.4,d[1]);txt(614.7,d[2],d[0],{size:7.2,color:'#333'});});

const chart=echarts.init(document.getElementById('c'),null,{renderer:'canvas',width:722,height:916});
chart.setOption({
  animation:false,backgroundColor:'#fff',tooltip:{show:false},legend:{show:false},
  grid:grids,xAxis:xAxes,yAxis:yAxes,series,
  visualMap:[{type:'continuous',seriesIndex:heatIdx,min:-4.2,max:4.2,left:338,top:148,itemWidth:9.7,itemHeight:136,padding:0,text:null,showLabel:false,calculable:false,
    inRange:{color:['#00007F','#000000','#FFFF00']},textStyle:{fontSize:0}}],
  graphic:{elements:gfx}
});
</script></body></html>
